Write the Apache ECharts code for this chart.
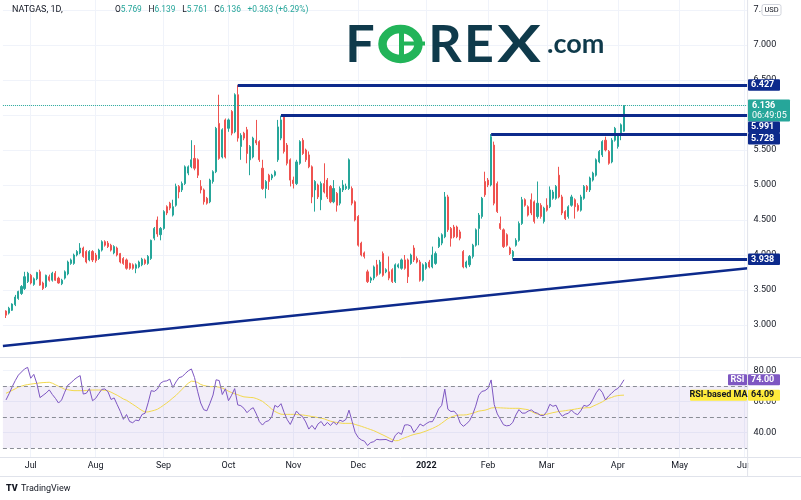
<!DOCTYPE html>
<html><head><meta charset="utf-8">
<script src="https://cdn.jsdelivr.net/npm/echarts@6/dist/echarts.min.js"></script>
<style>html,body{margin:0;padding:0;background:#fff}#c{width:801px;height:500px}</style>
</head><body><div id="c"></div>
<script>
// ---------------- data ----------------
const monthNames = ['Jan','Feb','Mar','Apr','May','Jun','Jul','Aug','Sep','Oct','Nov','Dec'];
const holidays = ['2021-07-05','2021-09-06','2021-11-25','2021-12-24','2022-01-17','2022-02-21','2022-04-15','2022-05-30'];
const rangeStart = '2021-06-18';
const rangeEnd = '2022-06-02';
const firstBarDate = '2021-06-21';
// [open, high, low, close] per trading day from 2021-06-21 to 2022-04-05
const ohlc = [
[3.20,3.21,3.10,3.14],[3.17,3.26,3.15,3.24],[3.21,3.31,3.20,3.30],[3.29,3.43,3.27,3.40],[3.38,3.49,3.36,3.48],
[3.45,3.57,3.43,3.55],[3.52,3.76,3.50,3.69],[3.62,3.76,3.60,3.74],[3.71,3.73,3.58,3.60],[3.58,3.68,3.56,3.66],
[3.66,3.76,3.64,3.75],[3.76,3.79,3.56,3.57],[3.60,3.62,3.50,3.52],[3.55,3.72,3.53,3.71],[3.69,3.72,3.62,3.64],
[3.64,3.76,3.62,3.74],[3.74,3.77,3.63,3.64],[3.67,3.69,3.59,3.60],[3.59,3.66,3.57,3.64],[3.67,3.78,3.65,3.76],
[3.73,3.92,3.71,3.90],[3.88,3.95,3.86,3.93],[3.88,4.02,3.86,4.00],[4.00,4.07,3.98,4.05],[4.03,4.17,4.01,4.10],
[4.10,4.12,3.96,3.98],[4.05,4.07,3.88,3.90],[3.93,4.07,3.91,4.05],[4.05,4.07,3.90,3.93],[4.00,4.03,3.89,3.92],
[3.95,4.09,3.93,4.07],[4.07,4.21,4.05,4.19],[4.19,4.21,4.12,4.14],[4.17,4.20,4.10,4.12],[4.14,4.16,4.05,4.07],
[4.03,4.14,4.01,4.12],[4.10,4.12,3.98,4.00],[4.02,4.03,3.88,3.90],[3.95,3.97,3.86,3.88],[3.93,3.95,3.79,3.81],
[3.88,3.89,3.79,3.81],[3.86,3.88,3.79,3.81],[3.81,3.88,3.74,3.86],[3.83,3.92,3.81,3.90],[3.86,3.96,3.84,3.94],
[3.93,3.95,3.86,3.88],[3.88,4.00,3.86,3.98],[3.95,4.22,3.93,4.21],[4.24,4.40,4.21,4.38],[4.50,4.55,4.26,4.30],
[4.29,4.40,4.21,4.38],[4.38,4.64,4.36,4.62],[4.69,4.71,4.57,4.60],[4.74,4.76,4.64,4.67],[4.57,4.79,4.55,4.69],
[4.71,5.02,4.69,4.98],[4.98,5.00,4.81,4.90],[4.93,5.05,4.90,5.02],[5.02,5.28,5.00,5.26],[5.17,5.28,5.14,5.26],
[5.26,5.64,5.24,5.36],[5.38,5.57,5.21,5.24],[5.36,5.38,5.10,5.14],[4.98,5.07,4.88,4.93],[4.93,4.95,4.72,4.76],
[4.81,4.83,4.72,4.74],[4.76,5.09,4.74,5.07],[5.05,5.21,5.02,5.19],[5.19,5.83,5.17,5.81],[5.88,6.29,5.36,5.38],
[5.40,5.81,5.38,5.79],[5.93,5.95,5.38,5.40],[5.81,5.95,5.76,5.93],[6.05,6.07,5.71,5.74],[5.76,6.31,5.74,6.29],
[6.29,6.427,5.62,5.67],[5.55,5.74,5.36,5.71],[5.74,5.76,5.64,5.67],[5.79,5.83,5.31,5.45],[5.36,5.57,5.14,5.55],
[5.40,5.69,5.38,5.67],[5.64,5.93,5.57,5.60],[5.62,5.64,5.33,5.36],[5.24,5.36,4.93,4.95],[4.95,5.07,4.81,5.05],
[5.14,5.16,4.93,5.05],[5.10,5.16,5.07,5.14],[5.14,5.21,5.12,5.19],[5.36,5.93,5.33,5.83],[5.67,5.991,5.64,5.93],
[5.97,5.98,5.45,5.48],[5.57,5.60,5.28,5.31],[5.36,5.38,4.98,5.07],[5.07,5.12,4.95,5.02],[5.02,5.36,5.00,5.33],
[5.31,5.64,5.29,5.62],[5.64,5.67,5.43,5.45],[5.50,5.52,5.33,5.36],[5.43,5.48,5.24,5.26],[5.26,5.28,4.74,4.83],
[4.93,5.07,4.62,5.05],[5.00,5.02,4.80,4.83],[4.79,5.05,4.64,5.02],[5.02,5.31,4.88,4.90],[5.07,5.10,4.80,4.83],
[4.98,5.00,4.74,4.76],[4.76,5.07,4.74,4.95],[4.88,4.90,4.62,4.71],[4.74,4.98,4.71,4.95],[4.93,5.07,4.90,5.00],
[4.95,5.02,4.93,4.98],[4.95,5.38,4.93,5.36],[4.95,4.98,4.71,4.74],[4.76,4.78,4.48,4.50],[4.55,4.57,4.12,4.14],
[4.17,4.19,3.98,4.00],[4.03,4.05,3.95,3.98],[3.76,3.79,3.60,3.62],[3.64,3.69,3.60,3.67],[3.67,3.85,3.64,3.83],
[3.86,3.93,3.69,3.71],[3.74,3.93,3.72,3.90],[4.02,4.05,3.69,3.71],[3.76,3.81,3.74,3.79],[3.76,3.98,3.64,3.67],
[3.79,3.81,3.60,3.62],[3.62,3.88,3.60,3.86],[3.83,3.88,3.81,3.86],[3.81,3.95,3.79,3.93],[3.93,4.00,3.79,3.81],
[3.93,3.95,3.60,3.69],[3.88,4.02,3.86,4.00],[4.10,4.14,3.90,3.93],[3.95,3.98,3.88,3.90],[3.90,3.93,3.62,3.64],
[3.64,3.88,3.62,3.86],[3.81,3.90,3.79,3.88],[3.90,3.93,3.81,3.83],[3.83,4.12,3.81,4.00],[3.88,4.05,3.86,4.02],
[4.12,4.26,4.10,4.24],[4.17,4.31,4.14,4.29],[4.26,4.90,4.24,4.83],[4.83,4.86,4.33,4.36],[4.38,4.40,4.12,4.24],
[4.40,4.43,4.24,4.26],[4.40,4.42,4.24,4.26],[4.33,4.36,4.21,4.24],[4.05,4.07,3.81,3.83],[3.83,3.92,3.81,3.90],
[3.86,4.00,3.83,3.98],[3.98,4.16,3.95,4.14],[4.14,4.38,4.12,4.36],[4.38,4.60,4.14,4.57],[4.55,4.83,4.52,4.81],
[5.05,5.19,4.83,4.86],[5.07,5.10,4.97,5.00],[5.00,5.728,4.98,5.69],[5.57,5.62,4.71,4.74],[5.02,5.05,4.60,4.62],
[4.45,4.55,4.36,4.38],[4.36,4.38,4.10,4.12],[4.29,4.31,4.12,4.14],[4.10,4.12,4.00,4.02],[3.98,4.07,3.938,4.05],
[4.14,4.24,4.12,4.21],[4.21,4.48,4.19,4.45],[4.45,4.83,4.43,4.79],[4.79,4.81,4.69,4.71],[4.69,4.71,4.55,4.57],
[4.79,4.88,4.57,4.60],[4.76,4.78,4.45,4.48],[4.55,5.05,4.52,4.74],[4.71,4.74,4.52,4.55],[4.48,4.69,4.45,4.67],
[4.71,4.81,4.62,4.64],[4.69,4.98,4.67,4.93],[4.81,4.93,4.79,4.90],[4.81,5.00,4.79,4.98],[5.14,5.26,4.81,4.83],
[4.83,4.86,4.57,4.60],[4.62,4.64,4.50,4.52],[4.55,4.71,4.52,4.69],[4.71,4.86,4.69,4.83],[4.79,4.81,4.52,4.69],
[4.71,4.74,4.62,4.64],[4.64,4.86,4.62,4.83],[4.81,5.00,4.79,4.98],[4.98,5.00,4.90,4.93],[4.93,5.12,4.90,5.10],
[5.07,5.19,5.05,5.17],[5.14,5.38,5.12,5.36],[5.33,5.50,5.31,5.48],[5.43,5.64,5.40,5.62],[5.64,5.69,5.48,5.50],
[5.48,5.50,5.29,5.31],[5.33,5.67,5.31,5.64],[5.64,5.83,5.62,5.81],[5.55,5.74,5.52,5.71],[5.71,5.88,5.64,5.86],
[5.769,6.139,5.761,6.136]
];
const rsi = [
61.0,65.0,69.5,73.5,77.0,79.0,81.0,82.0,75.0,77.5,
71.5,62.5,64.0,65.5,67.5,64.5,62.0,59.0,61.0,66.0,
70.5,72.0,74.0,75.5,76.7,64.8,65.3,68.3,60.5,62.0,
65.0,67.8,68.1,66.3,61.3,62.3,57.9,53.6,48.5,51.6,
47.1,46.3,48.0,47.6,51.6,52.4,59.2,67.0,66.5,68.0,
71.8,73.0,73.3,74.4,69.0,72.6,75.4,76.0,78.0,79.8,
81.0,75.5,66.6,59.0,54.7,54.0,58.8,64.2,74.0,73.5,
64.5,68.2,60.5,64.0,68.3,57.8,57.3,55.6,52.8,54.8,
56.0,52.0,47.0,44.8,47.0,47.6,50.0,57.5,56.3,58.6,
53.0,48.3,45.2,49.5,53.8,51.6,50.2,46.8,42.2,44.6,
42.0,45.6,47.1,44.2,46.5,44.5,46.8,45.0,48.0,47.1,
48.4,54.4,47.2,40.0,36.7,35.2,34.4,31.6,33.5,34.1,
35.6,35.3,35.4,35.5,34.6,33.9,38.2,40.0,38.8,44.8,
45.0,44.2,40.0,42.5,45.5,44.2,45.7,46.9,47.0,50.6,
55.2,57.5,68.0,55.0,53.5,53.8,51.5,46.0,44.0,45.5,
47.6,51.5,57.0,64.0,66.5,67.0,68.5,73.9,58.0,52.0,
48.5,45.0,44.3,44.6,46.5,51.3,54.8,52.5,52.5,53.8,
54.6,53.1,52.4,51.0,51.0,53.5,58.2,56.9,57.6,53.2,
50.5,51.8,52.4,54.5,52.4,51.5,54.0,57.5,56.9,58.2,
61.6,65.6,68.2,65.8,61.0,63.5,65.3,67.3,68.4,70.8,
74.0
];
const rsiMA = [
65.3,66.2,67.2,68.2,69.3,69.9,70.5,70.9,71.2,71.5,
71.7,72.0,72.2,72.3,72.4,71.8,70.8,69.8,68.9,67.9,
67.6,67.2,67.0,67.0,67.0,67.0,67.1,67.3,67.4,67.4,
67.4,67.4,67.2,66.9,66.0,65.0,64.0,62.8,61.6,60.8,
59.5,58.2,56.9,55.5,54.2,53.2,53.3,53.8,54.3,55.0,
56.2,57.6,59.0,60.6,62.3,63.9,65.9,67.9,70.0,71.8,
73.1,72.9,72.3,71.0,70.3,69.9,69.6,69.6,69.6,69.2,
68.6,67.8,66.6,65.8,65.0,64.4,63.6,63.0,62.8,62.6,
62.5,61.9,61.1,60.1,58.5,56.9,55.1,53.6,52.6,51.8,
51.7,51.7,51.7,51.7,51.6,51.4,51.3,51.0,50.7,50.3,
50.0,49.6,49.2,48.8,48.0,47.3,46.8,46.5,46.2,45.9,
45.9,45.9,45.9,45.2,44.6,44.0,43.3,42.6,41.9,41.2,
40.3,39.3,38.4,37.4,36.4,35.4,34.7,34.8,35.8,36.6,
37.3,38.1,38.7,39.2,39.6,40.3,41.0,41.8,42.6,43.6,
44.6,46.0,47.5,49.0,49.9,50.6,51.1,51.3,51.3,51.4,
51.9,52.4,53.1,53.8,54.1,54.4,55.0,55.8,56.0,56.0,
55.9,55.8,55.7,55.6,55.6,55.6,55.6,55.3,55.0,54.7,
53.6,52.6,51.9,51.5,51.4,51.8,52.3,52.8,53.2,53.6,
53.8,54.1,54.4,54.7,55.0,55.4,55.7,55.8,56.0,56.0,
57.0,57.9,58.8,59.8,61.1,62.0,62.6,63.4,63.8,64.0,
64.09
];
// horizontal support / resistance levels and where they start
const levelValues = [6.427, 5.991, 5.728, 3.938];
const levelStarts = ['2021-10-06', '2021-10-26', '2022-02-02', '2022-02-11'];
// rising trend line: value at first and at last category
const trendStartValue = 2.70;
const trendEndValue = 3.81;
const lastPrice = 6.136;
const lastRsi = 74.00;
const lastMa = 64.09;
const countdown = '06:49:05';
const header = {symbol: 'NATGAS, 1D,', o: '5.769', h: '6.139', l: '5.761', c: '6.136', chg: '+0.363 (+6.29%)'};
const rsiBands = [70, 50, 30];
const priceRange = [2.543, 7.643];
const rsiRange = [24.2, 88.7];

// ---------------- build ----------------
function tradingDays(a, b) {
  const out = [];
  const d = new Date(a + 'T00:00:00Z');
  const end = new Date(b + 'T00:00:00Z');
  while (d <= end) {
    const wd = d.getUTCDay();
    const s = d.toISOString().slice(0, 10);
    if (wd !== 0 && wd !== 6 && holidays.indexOf(s) < 0) out.push(s);
    d.setUTCDate(d.getUTCDate() + 1);
  }
  return out;
}
const dates = tradingDays(rangeStart, rangeEnd);
const off = dates.indexOf(firstBarDate);
const candleData = [];
const rsiData = [];
const maData = [];
for (let j = 0; j < dates.length; j++) {
  const r = ohlc[j - off];
  candleData.push(r ? [r[0], r[3], r[2], r[1]] : ['-', '-', '-', '-']);
  rsiData.push(j - off >= 0 && j - off < rsi.length ? rsi[j - off] : '-');
  maData.push(j - off >= 0 && j - off < rsiMA.length ? rsiMA[j - off] : '-');
}
function isMonthStart(idx) {
  const v = dates[idx];
  return idx > 0 && v && v.slice(0, 7) !== dates[idx - 1].slice(0, 7);
}
function monthLabel(v) {
  const m = +v.slice(5, 7);
  if (m === 1) return '{y|' + v.slice(0, 4) + '}';
  return monthNames[m - 1];
}

const UP = '#26a69a', DOWN = '#ef5350', NAVY = '#0d2a8c', GRID = '#f0f3fa', TXT = '#131722';
const FONT = 'Roboto';
const lastCat = dates[dates.length - 1];

const markLines = [];
levelValues.forEach((v, k) => {
  markLines.push([{coord: [levelStarts[k], v], lineStyle: {color: NAVY, width: 3, type: 'solid'}}, {coord: [lastCat, v]}]);
});
markLines.push([{coord: [dates[0], trendStartValue], lineStyle: {color: NAVY, width: 2.5, type: 'solid'}}, {coord: [lastCat, trendEndValue]}]);
markLines.push({yAxis: lastPrice, lineStyle: {color: UP, width: 1, type: 'dotted'}});

const chart = echarts.init(document.getElementById('c'));
const option = {
  animation: false,
  backgroundColor: '#ffffff',
  textStyle: {fontFamily: FONT},
  grid: [
    {left: 2.91, width: 744.7, top: 0, height: 357},
    {left: 2.91, width: 744.7, top: 357, height: 100}
  ],
  xAxis: [
    {type: 'category', gridIndex: 0, data: dates, boundaryGap: false,
     axisLine: {show: false}, axisTick: {show: false}, axisLabel: {show: false},
     splitLine: {show: true, interval: isMonthStart, lineStyle: {color: GRID, width: 1}}},
    {type: 'category', gridIndex: 1, data: dates, boundaryGap: false,
     axisLine: {show: false}, axisTick: {show: false},
     axisLabel: {show: true, interval: isMonthStart, formatter: monthLabel, margin: 4, fontSize: 9, color: TXT,
       rich: {y: {fontWeight: 'bold', fontSize: 9, color: TXT}}},
     splitLine: {show: true, interval: isMonthStart, lineStyle: {color: GRID, width: 1}}}
  ],
  yAxis: [
    {type: 'value', gridIndex: 0, position: 'right', min: priceRange[0], max: priceRange[1], splitNumber: 10,
     axisLine: {show: false}, axisTick: {show: false},
     axisLabel: {margin: 6, fontSize: 9, color: TXT, formatter: v => v.toFixed(3), showMinLabel: false, showMaxLabel: false},
     splitLine: {show: true, lineStyle: {color: GRID}, showMinLine: false, showMaxLine: false}},
    {type: 'value', gridIndex: 1, position: 'right', min: rsiRange[0], max: rsiRange[1], splitNumber: 3,
     axisLine: {show: false}, axisTick: {show: false},
     axisLabel: {margin: 6, fontSize: 9, color: TXT, formatter: v => v.toFixed(2), showMinLabel: false, showMaxLabel: false},
     splitLine: {show: true, lineStyle: {color: GRID}, showMinLine: false, showMaxLine: false}}
  ],
  series: [
    {type: 'candlestick', xAxisIndex: 0, yAxisIndex: 0, data: candleData, barWidth: 1.6,
     itemStyle: {color: UP, color0: DOWN, borderColor: UP, borderColor0: DOWN, borderWidth: 1},
     markLine: {silent: true, animation: false, symbol: ['none', 'none'], label: {show: false}, data: markLines}},
    {type: 'line', xAxisIndex: 1, yAxisIndex: 1, data: rsiData, symbol: 'none', z: 4,
     lineStyle: {color: '#7e57c2', width: 1},
     markArea: {silent: true, itemStyle: {color: 'rgba(126,87,194,0.10)'}, data: [[{yAxis: rsiBands[2]}, {yAxis: rsiBands[0]}]]},
     markLine: {silent: true, animation: false, symbol: ['none', 'none'], label: {show: false},
       lineStyle: {color: '#8a8d96', width: 1, type: [4, 3]},
       data: rsiBands.map(v => ({yAxis: v}))}},
    {type: 'line', xAxisIndex: 1, yAxisIndex: 1, data: maData, symbol: 'none', z: 3,
     lineStyle: {color: '#f2d94e', width: 1}}
  ]
};
chart.setOption(option);

// ---------------- overlays: price-scale tags, header, logos ----------------
const py = v => chart.convertToPixel({yAxisIndex: 0}, v);
const ry = v => chart.convertToPixel({yAxisIndex: 1}, v);
const g = [];
function tag(x, y, w, h, fill, text, color, align) {
  g.push({type: 'rect', z: 100, shape: {x: x, y: y, width: w, height: h, r: 1}, style: {fill: fill}});
  g.push({type: 'text', z: 101, style: {text: text, x: align === 'left' ? x + 3 : x + w / 2, y: y + h / 2,
    fill: color, font: 'bold 9px ' + FONT, textAlign: align === 'left' ? 'left' : 'center', textVerticalAlign: 'middle'}});
}
const scaleX = 748;
// separators
g.push({type: 'line', z: 90, shape: {x1: 747.6, y1: 0, x2: 747.6, y2: 476}, style: {stroke: '#e0e3eb', lineWidth: 1}});
g.push({type: 'rect', z: 89, shape: {x: 748.2, y: 458, width: 60, height: 18}, style: {fill: '#ffffff'}});
g.push({type: 'line', z: 90, shape: {x1: 0, y1: 357.5, x2: 801, y2: 357.5}, style: {stroke: '#e0e3eb', lineWidth: 1}});
g.push({type: 'line', z: 90, shape: {x1: 0, y1: 457.5, x2: 801, y2: 457.5}, style: {stroke: '#e0e3eb', lineWidth: 1}});
g.push({type: 'line', z: 90, shape: {x1: 0, y1: 476.5, x2: 801, y2: 476.5}, style: {stroke: '#e0e3eb', lineWidth: 1}});
// USD box
g.push({type: 'rect', z: 100, shape: {x: 762, y: 4.5, width: 19, height: 11, r: 2}, style: {fill: '#fff', stroke: '#d1d4dc', lineWidth: 1}});
g.push({type: 'text', z: 101, style: {text: 'USD', x: 771.5, y: 10.2, fill: TXT, font: '7.5px ' + FONT, textAlign: 'center', textVerticalAlign: 'middle'}});
// current price tag (two lines)
const cy = py(lastPrice);
const curTop = cy - 6, curH = 22;
g.push({type: 'rect', z: 100, shape: {x: scaleX, y: curTop, width: 42, height: curH, r: 1}, style: {fill: UP}});
g.push({type: 'text', z: 101, style: {text: lastPrice.toFixed(3), x: scaleX + 4, y: cy, fill: '#fff', font: 'bold 9px ' + FONT, textAlign: 'left', textVerticalAlign: 'middle'}});
g.push({type: 'text', z: 101, style: {text: countdown, x: scaleX + 4, y: cy + 10, fill: '#fff', font: '9px ' + FONT, textAlign: 'left', textVerticalAlign: 'middle'}});
// level tags with simple collision push-down
const boxes = [{top: curTop, bottom: curTop + curH}];
const tagH = 11.5;
levelValues.slice().sort((a, b) => b - a).forEach(v => {
  let top = py(v) - tagH / 2;
  boxes.forEach(b => { if (top < b.bottom && top + tagH > b.top) top = b.bottom; });
  boxes.push({top: top, bottom: top + tagH});
  tag(scaleX, top, 32, tagH, NAVY, v.toFixed(3), '#fff', 'left');
});
// RSI tags
const rTop = ry(lastRsi) - 5.5;
tag(728, rTop, 19, 11, '#7e57c2', 'RSI', '#fff', 'center');
tag(scaleX, rTop, 32, 11, '#7e57c2', lastRsi.toFixed(2), '#fff', 'left');
const mTop = ry(lastMa) - 5.5;
tag(690, mTop, 57, 11, '#ffeb3b', 'RSI-based MA', TXT, 'center');
tag(scaleX, mTop, 32, 11, '#ffeb3b', lastMa.toFixed(2), TXT, 'left');
// header
g.push({type: 'text', z: 101, style: {text: header.symbol, x: 12, y: 9.5, fill: TXT, font: '9px ' + FONT, textAlign: 'left', textVerticalAlign: 'middle'}});
g.push({type: 'text', z: 101, style: {
  text: '{k|O}{v|' + header.o + '}  {k|H}{v|' + header.h + '}  {k|L}{v|' + header.l + '}  {k|C}{v|' + header.c + '}  {v|' + header.chg + '}',
  x: 115, y: 9.5, textAlign: 'left', textVerticalAlign: 'middle',
  rich: {k: {fill: TXT, font: '8.4px ' + FONT}, v: {fill: UP, font: '8.4px ' + FONT}}}});
// FOREX.com logo
const LD = '#0f3a4b', LG = '#22b459';
const lf = 'bold 52px Lato';
g.push({type: 'text', z: 101, style: {text: 'F', x: 360, y: 45, fill: LD, font: lf, textAlign: 'center', textVerticalAlign: 'middle'}});
g.push({type: 'ellipse', z: 101, shape: {cx: 400.5, cy: 44, rx: 18, ry: 15}, style: {fill: 'none', stroke: LG, lineWidth: 8.5}});
g.push({type: 'rect', z: 101, shape: {x: 399, y: 33, width: 5, height: 24}, style: {fill: LG}});
g.push({type: 'rect', z: 101, shape: {x: 401, y: 41.5, width: 24, height: 4}, style: {fill: LG}});
g.push({type: 'text', z: 101, style: {text: 'R', x: 445, y: 45, fill: LD, font: lf, textAlign: 'center', textVerticalAlign: 'middle'}});
g.push({type: 'text', z: 101, style: {text: 'E', x: 479, y: 45, fill: LD, font: lf, textAlign: 'center', textVerticalAlign: 'middle'}});
g.push({type: 'text', z: 101, x: 519, y: 45, scaleX: 1.25, style: {text: 'X', x: 0, y: 0, fill: LD, font: lf, textAlign: 'center', textVerticalAlign: 'middle'}});
g.push({type: 'text', z: 101, style: {text: '.com', x: 547, y: 44, fill: LD, font: 'bold 27px Lato', textAlign: 'left', textVerticalAlign: 'middle'}});
// TradingView mark
g.push({type: 'text', z: 101, style: {text: 'TV', x: 6, y: 489, fill: TXT, font: '900 9px ' + FONT, textAlign: 'left', textVerticalAlign: 'middle'}});
g.push({type: 'text', z: 101, style: {text: 'TradingView', x: 21, y: 489, fill: TXT, font: '9px ' + FONT, textAlign: 'left', textVerticalAlign: 'middle'}});

chart.setOption({graphic: {elements: g}});
</script>
</body></html>
